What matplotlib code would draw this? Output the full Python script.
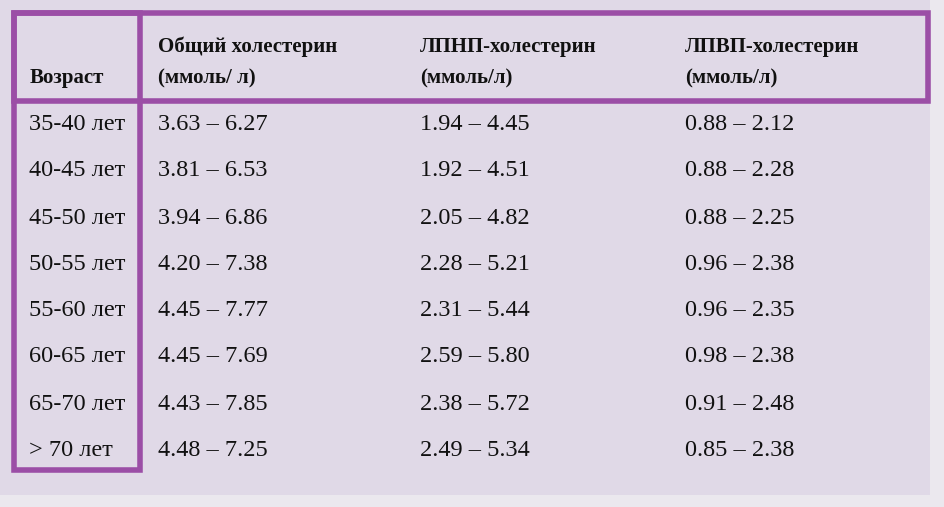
import matplotlib
matplotlib.use("Agg")
import matplotlib.pyplot as plt
from matplotlib.patches import Rectangle

ages = ["35-40 лет", "40-45 лет", "45-50 лет", "50-55 лет", "55-60 лет", "60-65 лет", "65-70 лет", "> 70 лет"]
total = ["3.63 – 6.27", "3.81 – 6.53", "3.94 – 6.86", "4.20 – 7.38", "4.45 – 7.77", "4.45 – 7.69", "4.43 – 7.85", "4.48 – 7.25"]
ldl = ["1.94 – 4.45", "1.92 – 4.51", "2.05 – 4.82", "2.28 – 5.21", "2.31 – 5.44", "2.59 – 5.80", "2.38 – 5.72", "2.49 – 5.34"]
hdl = ["0.88 – 2.12", "0.88 – 2.28", "0.88 – 2.25", "0.96 – 2.38", "0.96 – 2.35", "0.98 – 2.38", "0.91 – 2.48", "0.85 – 2.38"]
headers = ["Возраст", ("Общий холестерин", "(ммоль/ л)"), ("ЛПНП-холестерин", "(ммоль/л)"), ("ЛПВП-холестерин", "(ммоль/л)")]

fig = plt.figure(figsize=(9.45, 5.07), dpi=100)
fig.patch.set_facecolor("#ebe8ee")
ax = fig.add_axes([0, 0, 1, 1])
ax.set_xlim(0, 945); ax.set_ylim(507, 0); ax.axis("off")
ax.add_patch(Rectangle((0, 0), 930, 495, facecolor="#e0d9e7", edgecolor="none"))
purple = "#9b4ea6"
ax.add_patch(Rectangle((14, 13), 914, 88, fill=False, edgecolor=purple, lw=4))
ax.add_patch(Rectangle((14, 13), 126, 457, fill=False, edgecolor=purple, lw=4))

font = "Liberation Serif"
ax.text(30, 78, headers[0], fontsize=15, fontweight="bold", family=font, va="center", color="#111")
for x, h in zip([158, 420, 685], headers[1:]):
    ax.text(x, 47, h[0], fontsize=15, fontweight="bold", family=font, va="center", color="#111")
    ax.text(x, 78, h[1], fontsize=15, fontweight="bold", family=font, va="center", color="#111")

ys = [125, 171, 218, 264, 311, 357, 404, 450]
for y, a, t, l, hd in zip(ys, ages, total, ldl, hdl):
    ax.text(29, y, a, fontsize=17.5, family=font, va="center", color="#111")
    ax.text(158, y, t, fontsize=17.5, family=font, va="center", color="#111")
    ax.text(420, y, l, fontsize=17.5, family=font, va="center", color="#111")
    ax.text(685, y, hd, fontsize=17.5, family=font, va="center", color="#111")

fig.savefig("out.png", dpi=100, facecolor=fig.get_facecolor())
